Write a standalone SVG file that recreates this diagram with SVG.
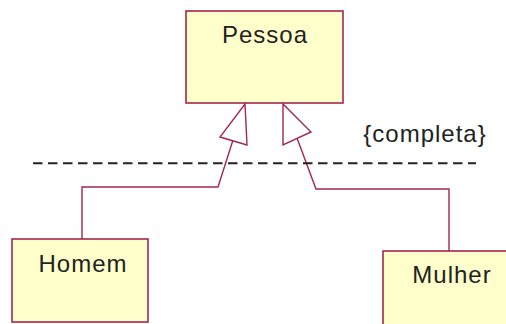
<svg xmlns="http://www.w3.org/2000/svg" width="506" height="324" viewBox="0 0 506 324">
<style>
.box{fill:#ffffcc;stroke:#a3264f;stroke-width:1.6}
.lbl{font-family:"Liberation Sans",Arial,sans-serif;font-size:24px;letter-spacing:1px;fill:#222;text-anchor:middle}
.conn{fill:none;stroke:#a3264f;stroke-width:1.4}
.head{fill:#ffffff;stroke:#a3264f;stroke-width:1.4;stroke-linejoin:miter}
</style>
<rect width="506" height="324" fill="#ffffff"/>
<g id="connectors">
<polyline class="conn" points="82,239 82,187 218,187 233,140"/>
<polygon class="head" points="245,104 247,145 220,137"/>
<polyline class="conn" points="449,251 449,189 316,189 297,138"/>
<polygon class="head" points="283,104 283,145 311,132"/>
</g>
<line x1="33" y1="163.3" x2="476" y2="163.3" stroke="#222" stroke-width="2" stroke-dasharray="9.5 5.5"/>
<text class="lbl" x="425" y="142">{completa}</text>
<g id="pessoa">
<rect class="box" x="186" y="11" width="157" height="92"/>
<text class="lbl" x="265" y="43">Pessoa</text>
</g>
<g id="homem">
<rect class="box" x="12" y="239" width="136" height="83"/>
<text class="lbl" x="83" y="272">Homem</text>
</g>
<g id="mulher">
<rect class="box" x="383" y="251" width="130" height="80"/>
<text class="lbl" x="452" y="283">Mulher</text>
</g>
</svg>
